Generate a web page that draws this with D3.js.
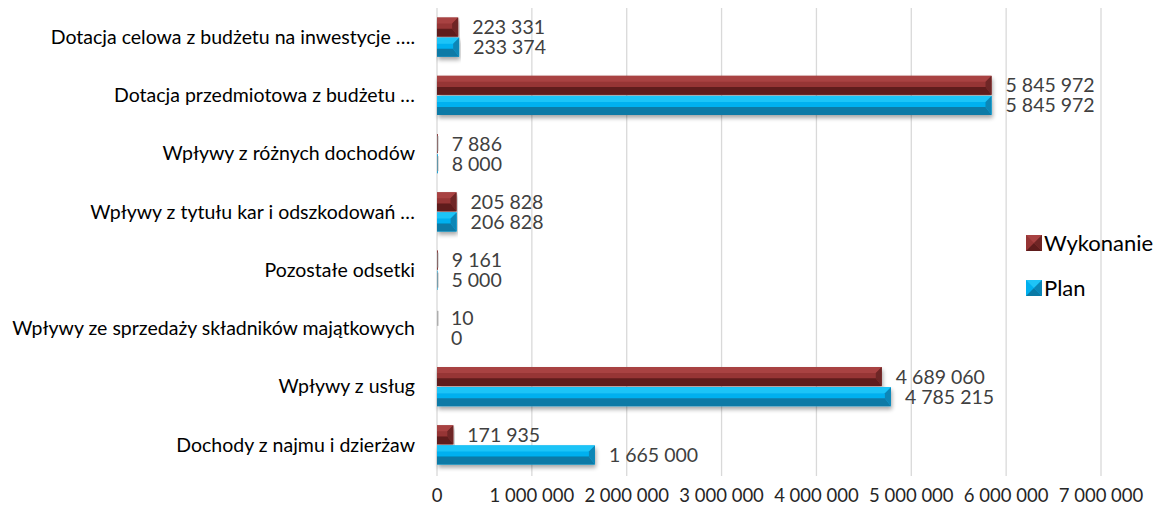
<!DOCTYPE html>
<html lang="pl">
<head>
<meta charset="UTF-8">
<title>Dochody</title>
<script src="https://d3js.org/d3.v7.min.js"></script>
<style>
  body { margin: 0; background: #fff; }
  svg text { font-family: Lato, "Open Sans", sans-serif; }
</style>
</head>
<body>
<div id="chart"></div>
<script>
  // data (top to bottom as in the picture)
  const categories = [
    'Dotacja celowa z budżetu na inwestycje ….',
    'Dotacja przedmiotowa z budżetu …',
    'Wpływy z różnych dochodów',
    'Wpływy z tytułu kar i odszkodowań …',
    'Pozostałe odsetki',
    'Wpływy ze sprzedaży składników majątkowych',
    'Wpływy z usług',
    'Dochody z najmu i dzierżaw'
  ];
  const wykonanie = [223331, 5845972, 7886, 205828, 9161, 10, 4689060, 171935];
  const plan = [233374, 5845972, 8000, 206828, 5000, 0, 4785215, 1665000];
  const ticks = [0, 1000000, 2000000, 3000000, 4000000, 5000000, 6000000, 7000000];
  const seriesNames = ['Wykonanie', 'Plan'];

  const W = 1158, H = 508;
  const fmt = v => d3.format(',')(v).replace(/,/g, ' ');

  const svg = d3.select('#chart').append('svg').attr('width', W).attr('height', H);

  const defs = svg.append('defs');
  const f = defs.append('filter').attr('id', 'sh').attr('x', '-5%').attr('y', '-50%').attr('width', '110%').attr('height', '220%');
  f.append('feGaussianBlur').attr('in', 'SourceAlpha').attr('stdDeviation', 2);
  f.append('feOffset').attr('dx', 1).attr('dy', 3).attr('result', 'b');
  f.append('feComponentTransfer').append('feFuncA').attr('type', 'linear').attr('slope', 0.35);
  const m = f.append('feMerge');
  m.append('feMergeNode');
  m.append('feMergeNode').attr('in', 'SourceGraphic');

  const x = d3.scaleLinear().domain([0, 7000000]).range([437, 1101]);
  const y = d3.scaleBand().domain(categories).range([8, 474]).paddingInner(0.33).paddingOuter(0.165);
  const sub = d3.scaleBand().domain(seriesNames).range([0, y.bandwidth()]).paddingInner(0.05);

  // gridlines
  svg.append('g').selectAll('line').data(ticks).join('line')
    .attr('x1', d => x(d)).attr('x2', d => x(d))
    .attr('y1', 8).attr('y2', 476)
    .attr('stroke', '#d9d9d9').attr('stroke-width', 1.3);

  // x tick labels
  svg.append('g').selectAll('text').data(ticks).join('text')
    .attr('x', d => x(d))
    .attr('y', 502)
    .attr('text-anchor', 'middle')
    .attr('font-size', 18.5).attr('fill', '#262626')
    .text(d => fmt(d));

  const colors = {
    Wykonanie: { top: '#a84242', base: '#963535', bot: '#5e1c1c', end: '#6e2525' },
    Plan: { top: '#1ec4f7', base: '#00b0ef', bot: '#0a7aa6', end: '#0b86b6' }
  };

  function bevelBar(g, x0, x1, y0, h, c) {
    const w = Math.max(0, x1 - x0);
    const b = Math.min(6, w / 2, h / 2);
    const grp = g.append('g').attr('filter', w > 2 ? 'url(#sh)' : null);
    if (w <= 0) return;
    grp.append('rect').attr('x', x0).attr('y', y0).attr('width', w).attr('height', h).attr('fill', c.base);
    grp.append('path').attr('d', `M${x0},${y0}L${x1},${y0}L${x1 - b},${y0 + b}L${x0},${y0 + b}Z`).attr('fill', c.top);
    grp.append('path').attr('d', `M${x0},${y0 + h}L${x1},${y0 + h}L${x1 - b},${y0 + h - b * 1.3}L${x0},${y0 + h - b * 1.3}Z`).attr('fill', c.bot);
    grp.append('path').attr('d', `M${x1},${y0}L${x1},${y0 + h}L${x1 - b},${y0 + h - b * 1.3}L${x1 - b},${y0 + b}Z`).attr('fill', c.end);
  }

  const bars = svg.append('g');
  const labels = svg.append('g');
  categories.forEach((cat, i) => {
    [[ 'Wykonanie', wykonanie[i] ], [ 'Plan', plan[i] ]].forEach(([s, v]) => {
      const y0 = y(cat) + sub(s);
      const h = sub.bandwidth();
      bevelBar(bars, x(0), x(v), y0, h, colors[s]);
      if (v > 0 && x(v) - x(0) < 2) {
        bars.append('rect').attr('x', x(0)).attr('y', y0 + 2).attr('width', 1.5).attr('height', h - 4).attr('fill', '#888').attr('opacity', 0.6);
      }
      labels.append('text')
        .attr('x', x(v) + 14).attr('y', y0 + h / 2)
        .attr('dy', '0.36em')
        .attr('font-size', 19.5).attr('fill', '#404040')
        .text(fmt(v));
    });
    svg.append('text')
      .attr('x', 415).attr('y', y(cat) + y.bandwidth() / 2)
      .attr('dy', '0.35em').attr('text-anchor', 'end')
      .attr('font-size', 19.5).attr('fill', '#000')
      .text(cat);
  });

  // legend
  const leg = svg.append('g');
  seriesNames.forEach((s, i) => {
    const ly = 243 + i * 45;
    const c = colors[s];
    const sz = 16, lx = 1026;
    leg.append('rect').attr('x', lx).attr('y', ly - sz / 2).attr('width', sz).attr('height', sz).attr('fill', c.base);
    leg.append('path').attr('d', `M${lx},${ly - sz / 2}L${lx + sz},${ly - sz / 2}L${lx + sz / 2},${ly}Z`).attr('fill', c.top);
    leg.append('path').attr('d', `M${lx},${ly + sz / 2}L${lx + sz},${ly + sz / 2}L${lx + sz / 2},${ly}Z`).attr('fill', c.bot);
    leg.append('path').attr('d', `M${lx + sz},${ly - sz / 2}L${lx + sz},${ly + sz / 2}L${lx + sz / 2},${ly}Z`).attr('fill', c.end);
    leg.append('text').attr('x', lx + sz + 2).attr('y', ly).attr('dy', '0.36em')
      .attr('font-size', 22).attr('fill', '#000').text(s);
  });
</script>
</body>
</html>
